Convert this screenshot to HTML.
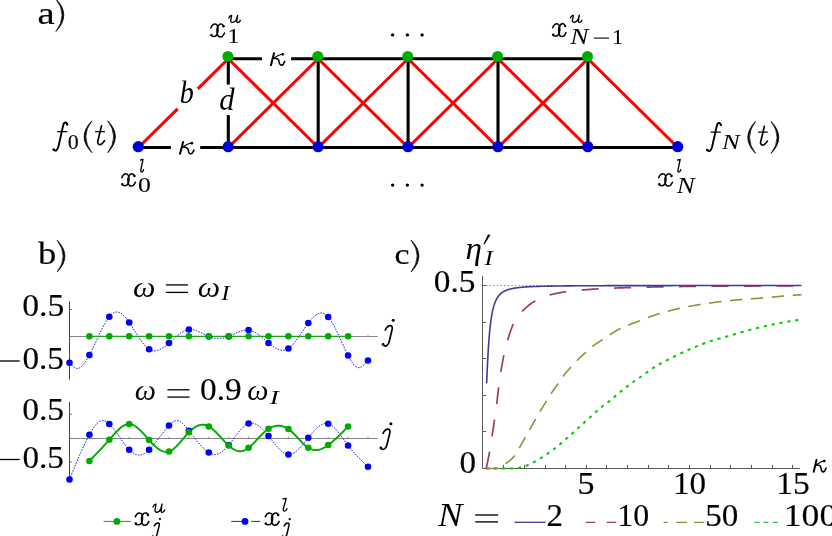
<!DOCTYPE html>
<html><head><meta charset="utf-8"><title>figure</title>
<style>
html,body{margin:0;padding:0;background:#fff;overflow:hidden;}
svg{display:block;}
text{font-family:"Liberation Serif",serif;font-size:200px;fill:#000;}
</style></head>
<body>
<svg width="832" height="536" viewBox="0 0 832 536">
<rect width="832" height="536" fill="#fff"/>
<g id="panel-a">
<line x1="138.40" y1="147.50" x2="177.60" y2="108.80" stroke="#ff0000" stroke-width="3.1"/>
<line x1="197.80" y1="88.86" x2="228.30" y2="58.75" stroke="#ff0000" stroke-width="3.1"/>
<line x1="228.30" y1="58.75" x2="318.20" y2="147.50" stroke="#ff0000" stroke-width="3.1"/>
<line x1="228.30" y1="147.50" x2="318.20" y2="58.75" stroke="#ff0000" stroke-width="3.1"/>
<line x1="318.20" y1="58.75" x2="408.10" y2="147.50" stroke="#ff0000" stroke-width="3.1"/>
<line x1="318.20" y1="147.50" x2="408.10" y2="58.75" stroke="#ff0000" stroke-width="3.1"/>
<line x1="408.10" y1="58.75" x2="498.00" y2="147.50" stroke="#ff0000" stroke-width="3.1"/>
<line x1="408.10" y1="147.50" x2="498.00" y2="58.75" stroke="#ff0000" stroke-width="3.1"/>
<line x1="498.00" y1="58.75" x2="587.90" y2="147.50" stroke="#ff0000" stroke-width="3.1"/>
<line x1="498.00" y1="147.50" x2="587.90" y2="58.75" stroke="#ff0000" stroke-width="3.1"/>
<line x1="587.90" y1="58.75" x2="677.80" y2="147.50" stroke="#ff0000" stroke-width="3.1"/>
<line x1="228.30" y1="58.75" x2="261.90" y2="58.75" stroke="#000" stroke-width="3.1"/>
<line x1="291.10" y1="58.75" x2="587.90" y2="58.75" stroke="#000" stroke-width="3.1"/>
<line x1="138.40" y1="147.50" x2="170.90" y2="147.50" stroke="#000" stroke-width="3.1"/>
<line x1="200.20" y1="147.50" x2="677.80" y2="147.50" stroke="#000" stroke-width="3.1"/>
<line x1="228.30" y1="58.75" x2="228.30" y2="84.60" stroke="#000" stroke-width="3.1"/>
<line x1="228.30" y1="115.10" x2="228.30" y2="147.50" stroke="#000" stroke-width="3.1"/>
<line x1="318.20" y1="58.75" x2="318.20" y2="147.50" stroke="#000" stroke-width="3.1"/>
<line x1="408.10" y1="58.75" x2="408.10" y2="147.50" stroke="#000" stroke-width="3.1"/>
<line x1="498.00" y1="58.75" x2="498.00" y2="147.50" stroke="#000" stroke-width="3.1"/>
<line x1="587.90" y1="58.75" x2="587.90" y2="147.50" stroke="#000" stroke-width="3.1"/>
<circle cx="227.90" cy="56.4" r="5.5" fill="#00ab00"/>
<circle cx="317.80" cy="56.4" r="5.5" fill="#00ab00"/>
<circle cx="407.70" cy="56.4" r="5.5" fill="#00ab00"/>
<circle cx="497.60" cy="56.4" r="5.5" fill="#00ab00"/>
<circle cx="587.50" cy="56.4" r="5.5" fill="#00ab00"/>
<circle cx="138.30" cy="146.7" r="5.6" fill="#0000d8"/>
<circle cx="228.20" cy="146.7" r="5.6" fill="#0000d8"/>
<circle cx="318.10" cy="146.7" r="5.6" fill="#0000d8"/>
<circle cx="408.00" cy="146.7" r="5.6" fill="#0000d8"/>
<circle cx="497.90" cy="146.7" r="5.6" fill="#0000d8"/>
<circle cx="587.80" cy="146.7" r="5.6" fill="#0000d8"/>
<circle cx="677.70" cy="146.7" r="5.6" fill="#0000d8"/>
<circle cx="392.6" cy="34.9" r="1.7" fill="#000"/>
<circle cx="392.6" cy="185.1" r="1.7" fill="#000"/>
<circle cx="407.4" cy="34.9" r="1.7" fill="#000"/>
<circle cx="407.4" cy="185.1" r="1.7" fill="#000"/>
<circle cx="422.1" cy="34.9" r="1.7" fill="#000"/>
<circle cx="422.1" cy="185.1" r="1.7" fill="#000"/>
</g>
<g id="panel-b">
<path d="M69.5,301.25 V379.7" stroke="#444" stroke-width="1" fill="none"/>
<path d="M69.5,336.5 H377.6" stroke="#666" stroke-width="0.8" fill="none"/>
<path d="M69.5,309.5 h2.5 M69.5,363 h2.5" stroke="#5a5a5a" stroke-width="0.8" fill="none"/>
<path d="M89.40,336.25 v-1.6 M109.30,336.25 v-1.6 M129.20,336.25 v-1.6 M149.10,336.25 v-1.6 M169.00,336.25 v-1.6 M188.90,336.25 v-1.6 M208.80,336.25 v-1.6 M228.70,336.25 v-1.6 M248.60,336.25 v-1.6 M268.50,336.25 v-1.6 M288.40,336.25 v-1.6 M308.30,336.25 v-1.6 M328.20,336.25 v-1.6 M348.10,336.25 v-1.6 M368.00,336.25 v-1.6" stroke="#555" stroke-width="0.6" fill="none"/>
<path d="M69.50,362.80 L70.17,363.54 L70.83,364.26 L71.50,364.96 L72.17,365.63 L72.83,366.25 L73.50,366.82 L74.16,367.32 L74.83,367.74 L75.50,368.07 L76.16,368.30 L76.83,368.42 L77.50,368.43 L78.16,368.34 L78.83,368.16 L79.49,367.88 L80.16,367.51 L80.83,367.05 L81.49,366.51 L82.16,365.89 L82.83,365.20 L83.49,364.43 L84.16,363.60 L84.82,362.70 L85.49,361.74 L86.16,360.73 L86.82,359.66 L87.49,358.54 L88.16,357.38 L88.82,356.17 L89.49,354.93 L90.16,353.66 L90.82,352.35 L91.49,351.01 L92.15,349.65 L92.82,348.27 L93.49,346.87 L94.15,345.46 L94.82,344.04 L95.49,342.60 L96.15,341.17 L96.82,339.73 L97.48,338.29 L98.15,336.86 L98.82,335.44 L99.48,334.03 L100.15,332.64 L100.82,331.26 L101.48,329.90 L102.15,328.57 L102.81,327.27 L103.48,326.00 L104.15,324.77 L104.81,323.57 L105.48,322.41 L106.15,321.30 L106.81,320.24 L107.48,319.23 L108.15,318.27 L108.81,317.37 L109.48,316.53 L110.14,315.76 L110.81,315.05 L111.48,314.41 L112.14,313.84 L112.81,313.34 L113.48,312.92 L114.14,312.56 L114.81,312.29 L115.47,312.10 L116.14,311.98 L116.81,311.95 L117.47,312.00 L118.14,312.12 L118.81,312.31 L119.47,312.57 L120.14,312.91 L120.80,313.30 L121.47,313.75 L122.14,314.27 L122.80,314.84 L123.47,315.46 L124.14,316.12 L124.80,316.84 L125.47,317.60 L126.14,318.40 L126.80,319.23 L127.47,320.10 L128.13,321.00 L128.80,321.93 L129.47,322.88 L130.13,323.86 L130.80,324.86 L131.47,325.87 L132.13,326.90 L132.80,327.94 L133.46,328.99 L134.13,330.04 L134.80,331.10 L135.46,332.15 L136.13,333.21 L136.80,334.26 L137.46,335.30 L138.13,336.33 L138.79,337.34 L139.46,338.34 L140.13,339.32 L140.79,340.28 L141.46,341.21 L142.13,342.12 L142.79,342.99 L143.46,343.84 L144.12,344.64 L144.79,345.41 L145.46,346.14 L146.12,346.82 L146.79,347.45 L147.46,348.04 L148.12,348.57 L148.79,349.05 L149.46,349.47 L150.12,349.83 L150.79,350.13 L151.45,350.38 L152.12,350.57 L152.79,350.72 L153.45,350.81 L154.12,350.85 L154.79,350.85 L155.45,350.81 L156.12,350.72 L156.78,350.59 L157.45,350.42 L158.12,350.21 L158.78,349.97 L159.45,349.69 L160.12,349.38 L160.78,349.04 L161.45,348.67 L162.11,348.28 L162.78,347.85 L163.45,347.41 L164.11,346.94 L164.78,346.45 L165.45,345.94 L166.11,345.42 L166.78,344.88 L167.45,344.33 L168.11,343.77 L168.78,343.19 L169.44,342.61 L170.11,342.02 L170.78,341.43 L171.44,340.83 L172.11,340.24 L172.78,339.64 L173.44,339.04 L174.11,338.45 L174.77,337.86 L175.44,337.28 L176.11,336.71 L176.77,336.15 L177.44,335.59 L178.11,335.05 L178.77,334.53 L179.44,334.02 L180.10,333.53 L180.77,333.06 L181.44,332.61 L182.10,332.18 L182.77,331.78 L183.44,331.40 L184.10,331.05 L184.77,330.73 L185.44,330.45 L186.10,330.19 L186.77,329.97 L187.43,329.78 L188.10,329.63 L188.77,329.52 L189.43,329.45 L190.10,329.42 L190.77,329.42 L191.43,329.46 L192.10,329.54 L192.76,329.64 L193.43,329.78 L194.10,329.94 L194.76,330.13 L195.43,330.34 L196.10,330.57 L196.76,330.83 L197.43,331.10 L198.09,331.38 L198.76,331.68 L199.43,331.99 L200.09,332.32 L200.76,332.65 L201.43,332.98 L202.09,333.32 L202.76,333.66 L203.43,334.00 L204.09,334.34 L204.76,334.67 L205.42,335.00 L206.09,335.32 L206.76,335.63 L207.42,335.93 L208.09,336.21 L208.76,336.48 L209.42,336.73 L210.09,336.97 L210.75,337.18 L211.42,337.38 L212.09,337.56 L212.75,337.72 L213.42,337.87 L214.09,337.99 L214.75,338.10 L215.42,338.20 L216.08,338.27 L216.75,338.33 L217.42,338.37 L218.08,338.39 L218.75,338.40 L219.42,338.39 L220.08,338.36 L220.75,338.31 L221.42,338.25 L222.08,338.17 L222.75,338.08 L223.41,337.97 L224.08,337.84 L224.75,337.69 L225.41,337.53 L226.08,337.36 L226.75,337.16 L227.41,336.95 L228.08,336.73 L228.74,336.48 L229.41,336.23 L230.08,335.95 L230.74,335.67 L231.41,335.37 L232.08,335.07 L232.74,334.76 L233.41,334.44 L234.07,334.12 L234.74,333.80 L235.41,333.49 L236.07,333.17 L236.74,332.86 L237.41,332.55 L238.07,332.25 L238.74,331.96 L239.41,331.68 L240.07,331.42 L240.74,331.17 L241.40,330.93 L242.07,330.72 L242.74,330.53 L243.40,330.36 L244.07,330.21 L244.74,330.09 L245.40,330.00 L246.07,329.93 L246.73,329.90 L247.40,329.91 L248.07,329.94 L248.73,330.02 L249.40,330.13 L250.07,330.28 L250.73,330.46 L251.40,330.68 L252.06,330.93 L252.73,331.21 L253.40,331.52 L254.06,331.86 L254.73,332.22 L255.40,332.61 L256.06,333.02 L256.73,333.46 L257.40,333.91 L258.06,334.38 L258.73,334.87 L259.39,335.37 L260.06,335.89 L260.73,336.42 L261.39,336.96 L262.06,337.51 L262.73,338.07 L263.39,338.63 L264.06,339.20 L264.72,339.77 L265.39,340.35 L266.06,340.92 L266.72,341.49 L267.39,342.06 L268.06,342.63 L268.72,343.19 L269.39,343.74 L270.05,344.28 L270.72,344.81 L271.39,345.33 L272.05,345.83 L272.72,346.32 L273.39,346.78 L274.05,347.23 L274.72,347.66 L275.39,348.05 L276.05,348.43 L276.72,348.77 L277.38,349.09 L278.05,349.37 L278.72,349.62 L279.38,349.84 L280.05,350.01 L280.72,350.15 L281.38,350.25 L282.05,350.30 L282.71,350.31 L283.38,350.28 L284.05,350.20 L284.71,350.08 L285.38,349.91 L286.05,349.69 L286.71,349.42 L287.38,349.10 L288.04,348.72 L288.71,348.29 L289.38,347.81 L290.04,347.28 L290.71,346.70 L291.38,346.08 L292.04,345.41 L292.71,344.71 L293.38,343.96 L294.04,343.18 L294.71,342.37 L295.37,341.53 L296.04,340.66 L296.71,339.77 L297.37,338.85 L298.04,337.92 L298.71,336.97 L299.37,336.01 L300.04,335.03 L300.70,334.04 L301.37,333.05 L302.04,332.06 L302.70,331.06 L303.37,330.07 L304.04,329.07 L304.70,328.09 L305.37,327.12 L306.03,326.15 L306.70,325.20 L307.37,324.27 L308.03,323.36 L308.70,322.47 L309.37,321.60 L310.03,320.77 L310.70,319.96 L311.36,319.18 L312.03,318.44 L312.70,317.73 L313.36,317.06 L314.03,316.44 L314.70,315.86 L315.36,315.32 L316.03,314.84 L316.70,314.40 L317.36,314.02 L318.03,313.70 L318.69,313.43 L319.36,313.23 L320.03,313.09 L320.69,313.01 L321.36,313.00 L322.03,313.07 L322.69,313.20 L323.36,313.40 L324.02,313.68 L324.69,314.02 L325.36,314.43 L326.02,314.92 L326.69,315.48 L327.36,316.10 L328.02,316.80 L328.69,317.57 L329.35,318.41 L330.02,319.31 L330.69,320.28 L331.35,321.30 L332.02,322.37 L332.69,323.50 L333.35,324.68 L334.02,325.89 L334.69,327.15 L335.35,328.45 L336.02,329.78 L336.68,331.13 L337.35,332.52 L338.02,333.93 L338.68,335.35 L339.35,336.79 L340.02,338.25 L340.68,339.71 L341.35,341.17 L342.01,342.64 L342.68,344.11 L343.35,345.57 L344.01,347.02 L344.68,348.45 L345.35,349.88 L346.01,351.28 L346.68,352.65 L347.34,354.01 L348.01,355.33 L348.68,356.61 L349.34,357.86 L350.01,359.06 L350.68,360.21 L351.34,361.30 L352.01,362.32 L352.68,363.28 L353.34,364.15 L354.01,364.95 L354.67,365.65 L355.34,366.26 L356.01,366.77 L356.67,367.16 L357.34,367.45 L358.01,367.61 L358.67,367.66 L359.34,367.60 L360.00,367.44 L360.67,367.19 L361.34,366.85 L362.00,366.44 L362.67,365.95 L363.34,365.41 L364.00,364.81 L364.67,364.16 L365.33,363.48 L366.00,362.76 L366.67,362.02 L367.33,361.26 L368.00,360.50" stroke="#0000ff" stroke-width="1.0" stroke-dasharray="1.5 1.35" fill="none"/>
<path d="M89.4,336.25 H348.09999999999997" stroke="#1fa01f" stroke-width="1.25" fill="none"/>
<circle cx="69.50" cy="362.8" r="3.3" fill="#0000ff"/>
<circle cx="89.40" cy="355.1" r="3.3" fill="#0000ff"/>
<circle cx="109.30" cy="316.75" r="3.3" fill="#0000ff"/>
<circle cx="129.20" cy="322.5" r="3.3" fill="#0000ff"/>
<circle cx="149.10" cy="349.25" r="3.3" fill="#0000ff"/>
<circle cx="169.00" cy="343" r="3.3" fill="#0000ff"/>
<circle cx="188.90" cy="329.5" r="3.3" fill="#0000ff"/>
<circle cx="208.80" cy="336.5" r="3.3" fill="#0000ff"/>
<circle cx="228.70" cy="336.5" r="3.3" fill="#0000ff"/>
<circle cx="248.60" cy="330" r="3.3" fill="#0000ff"/>
<circle cx="268.50" cy="343" r="3.3" fill="#0000ff"/>
<circle cx="288.40" cy="348.5" r="3.3" fill="#0000ff"/>
<circle cx="308.30" cy="323" r="3.3" fill="#0000ff"/>
<circle cx="328.20" cy="317" r="3.3" fill="#0000ff"/>
<circle cx="348.10" cy="355.5" r="3.3" fill="#0000ff"/>
<circle cx="368.00" cy="360.5" r="3.3" fill="#0000ff"/>
<circle cx="89.40" cy="336.25" r="3.3" fill="#00ab00"/>
<circle cx="109.30" cy="336.25" r="3.3" fill="#00ab00"/>
<circle cx="129.20" cy="336.25" r="3.3" fill="#00ab00"/>
<circle cx="149.10" cy="336.25" r="3.3" fill="#00ab00"/>
<circle cx="169.00" cy="336.25" r="3.3" fill="#00ab00"/>
<circle cx="188.90" cy="336.25" r="3.3" fill="#00ab00"/>
<circle cx="208.80" cy="336.25" r="3.3" fill="#00ab00"/>
<circle cx="228.70" cy="336.25" r="3.3" fill="#00ab00"/>
<circle cx="248.60" cy="336.25" r="3.3" fill="#00ab00"/>
<circle cx="268.50" cy="336.25" r="3.3" fill="#00ab00"/>
<circle cx="288.40" cy="336.25" r="3.3" fill="#00ab00"/>
<circle cx="308.30" cy="336.25" r="3.3" fill="#00ab00"/>
<circle cx="328.20" cy="336.25" r="3.3" fill="#00ab00"/>
<circle cx="348.10" cy="336.25" r="3.3" fill="#00ab00"/>
<path d="M69.5,402 V479" stroke="#444" stroke-width="1" fill="none"/>
<path d="M69.5,438.5 H377.6" stroke="#666" stroke-width="0.8" fill="none"/>
<path d="M69.5,414.25 h2.5 M69.5,462 h2.5" stroke="#5a5a5a" stroke-width="0.8" fill="none"/>
<path d="M89.40,438.25 v-1.6 M109.30,438.25 v-1.6 M129.20,438.25 v-1.6 M149.10,438.25 v-1.6 M169.00,438.25 v-1.6 M188.90,438.25 v-1.6 M208.80,438.25 v-1.6 M228.70,438.25 v-1.6 M248.60,438.25 v-1.6 M268.50,438.25 v-1.6 M288.40,438.25 v-1.6 M308.30,438.25 v-1.6 M328.20,438.25 v-1.6 M348.10,438.25 v-1.6 M368.00,438.25 v-1.6" stroke="#555" stroke-width="0.6" fill="none"/>
<path d="M69.50,479.50 L70.17,477.86 L70.83,476.22 L71.50,474.59 L72.17,472.96 L72.83,471.33 L73.50,469.70 L74.16,468.08 L74.83,466.47 L75.50,464.87 L76.16,463.27 L76.83,461.68 L77.50,460.11 L78.16,458.54 L78.83,456.99 L79.49,455.45 L80.16,453.93 L80.83,452.42 L81.49,450.92 L82.16,449.44 L82.83,447.99 L83.49,446.55 L84.16,445.12 L84.82,443.72 L85.49,442.35 L86.16,440.99 L86.82,439.66 L87.49,438.35 L88.16,437.07 L88.82,435.82 L89.49,434.59 L90.16,433.39 L90.82,432.22 L91.49,431.09 L92.15,430.00 L92.82,428.95 L93.49,427.94 L94.15,426.99 L94.82,426.08 L95.49,425.24 L96.15,424.45 L96.82,423.73 L97.48,423.07 L98.15,422.48 L98.82,421.96 L99.48,421.52 L100.15,421.16 L100.82,420.88 L101.48,420.69 L102.15,420.59 L102.81,420.57 L103.48,420.63 L104.15,420.77 L104.81,420.98 L105.48,421.26 L106.15,421.60 L106.81,422.01 L107.48,422.47 L108.15,422.99 L108.81,423.55 L109.48,424.17 L110.14,424.82 L110.81,425.52 L111.48,426.26 L112.14,427.03 L112.81,427.83 L113.48,428.66 L114.14,429.51 L114.81,430.39 L115.47,431.29 L116.14,432.21 L116.81,433.15 L117.47,434.09 L118.14,435.05 L118.81,436.01 L119.47,436.97 L120.14,437.94 L120.80,438.91 L121.47,439.87 L122.14,440.82 L122.80,441.76 L123.47,442.69 L124.14,443.61 L124.80,444.50 L125.47,445.38 L126.14,446.23 L126.80,447.05 L127.47,447.85 L128.13,448.61 L128.80,449.33 L129.47,450.02 L130.13,450.67 L130.80,451.27 L131.47,451.84 L132.13,452.36 L132.80,452.84 L133.46,453.27 L134.13,453.66 L134.80,454.01 L135.46,454.30 L136.13,454.55 L136.80,454.75 L137.46,454.90 L138.13,455.00 L138.79,455.05 L139.46,455.04 L140.13,454.98 L140.79,454.87 L141.46,454.71 L142.13,454.50 L142.79,454.24 L143.46,453.94 L144.12,453.59 L144.79,453.19 L145.46,452.76 L146.12,452.29 L146.79,451.78 L147.46,451.23 L148.12,450.66 L148.79,450.05 L149.46,449.40 L150.12,448.74 L150.79,448.04 L151.45,447.32 L152.12,446.58 L152.79,445.81 L153.45,445.03 L154.12,444.23 L154.79,443.41 L155.45,442.58 L156.12,441.73 L156.78,440.88 L157.45,440.02 L158.12,439.15 L158.78,438.27 L159.45,437.39 L160.12,436.51 L160.78,435.63 L161.45,434.75 L162.11,433.88 L162.78,433.01 L163.45,432.15 L164.11,431.30 L164.78,430.46 L165.45,429.63 L166.11,428.82 L166.78,428.02 L167.45,427.24 L168.11,426.48 L168.78,425.74 L169.44,425.03 L170.11,424.34 L170.78,423.69 L171.44,423.08 L172.11,422.52 L172.78,422.01 L173.44,421.56 L174.11,421.19 L174.77,420.88 L175.44,420.66 L176.11,420.52 L176.77,420.47 L177.44,420.52 L178.11,420.65 L178.77,420.86 L179.44,421.15 L180.10,421.52 L180.77,421.95 L181.44,422.44 L182.10,422.99 L182.77,423.59 L183.44,424.24 L184.10,424.93 L184.77,425.66 L185.44,426.43 L186.10,427.22 L186.77,428.03 L187.43,428.87 L188.10,429.72 L188.77,430.58 L189.43,431.44 L190.10,432.31 L190.77,433.17 L191.43,434.04 L192.10,434.91 L192.76,435.77 L193.43,436.63 L194.10,437.49 L194.76,438.34 L195.43,439.18 L196.10,440.01 L196.76,440.83 L197.43,441.64 L198.09,442.44 L198.76,443.23 L199.43,443.99 L200.09,444.75 L200.76,445.48 L201.43,446.20 L202.09,446.90 L202.76,447.57 L203.43,448.22 L204.09,448.85 L204.76,449.45 L205.42,450.03 L206.09,450.58 L206.76,451.10 L207.42,451.59 L208.09,452.05 L208.76,452.47 L209.42,452.86 L210.09,453.22 L210.75,453.54 L211.42,453.81 L212.09,454.04 L212.75,454.23 L213.42,454.37 L214.09,454.46 L214.75,454.50 L215.42,454.48 L216.08,454.41 L216.75,454.29 L217.42,454.12 L218.08,453.89 L218.75,453.62 L219.42,453.31 L220.08,452.95 L220.75,452.54 L221.42,452.10 L222.08,451.61 L222.75,451.09 L223.41,450.53 L224.08,449.94 L224.75,449.31 L225.41,448.65 L226.08,447.96 L226.75,447.25 L227.41,446.51 L228.08,445.74 L228.74,444.95 L229.41,444.13 L230.08,443.30 L230.74,442.45 L231.41,441.59 L232.08,440.72 L232.74,439.84 L233.41,438.96 L234.07,438.07 L234.74,437.18 L235.41,436.30 L236.07,435.42 L236.74,434.55 L237.41,433.69 L238.07,432.85 L238.74,432.02 L239.41,431.21 L240.07,430.42 L240.74,429.66 L241.40,428.93 L242.07,428.22 L242.74,427.55 L243.40,426.92 L244.07,426.32 L244.74,425.77 L245.40,425.25 L246.07,424.79 L246.73,424.37 L247.40,424.01 L248.07,423.70 L248.73,423.45 L249.40,423.26 L250.07,423.13 L250.73,423.05 L251.40,423.03 L252.06,423.06 L252.73,423.15 L253.40,423.28 L254.06,423.46 L254.73,423.69 L255.40,423.96 L256.06,424.27 L256.73,424.63 L257.40,425.03 L258.06,425.46 L258.73,425.93 L259.39,426.44 L260.06,426.98 L260.73,427.55 L261.39,428.15 L262.06,428.78 L262.73,429.44 L263.39,430.12 L264.06,430.82 L264.72,431.55 L265.39,432.30 L266.06,433.06 L266.72,433.84 L267.39,434.64 L268.06,435.45 L268.72,436.28 L269.39,437.11 L270.05,437.95 L270.72,438.80 L271.39,439.64 L272.05,440.49 L272.72,441.34 L273.39,442.18 L274.05,443.02 L274.72,443.84 L275.39,444.65 L276.05,445.45 L276.72,446.23 L277.38,446.99 L278.05,447.73 L278.72,448.45 L279.38,449.13 L280.05,449.79 L280.72,450.42 L281.38,451.01 L282.05,451.56 L282.71,452.07 L283.38,452.55 L284.05,452.97 L284.71,453.35 L285.38,453.69 L286.05,453.97 L286.71,454.19 L287.38,454.36 L288.04,454.47 L288.71,454.51 L289.38,454.50 L290.04,454.42 L290.71,454.29 L291.38,454.10 L292.04,453.86 L292.71,453.57 L293.38,453.23 L294.04,452.85 L294.71,452.42 L295.37,451.94 L296.04,451.43 L296.71,450.88 L297.37,450.30 L298.04,449.69 L298.71,449.04 L299.37,448.37 L300.04,447.67 L300.70,446.94 L301.37,446.20 L302.04,445.43 L302.70,444.65 L303.37,443.86 L304.04,443.05 L304.70,442.23 L305.37,441.41 L306.03,440.58 L306.70,439.75 L307.37,438.91 L308.03,438.08 L308.70,437.25 L309.37,436.43 L310.03,435.62 L310.70,434.81 L311.36,434.02 L312.03,433.24 L312.70,432.47 L313.36,431.73 L314.03,431.00 L314.70,430.29 L315.36,429.61 L316.03,428.95 L316.70,428.32 L317.36,427.72 L318.03,427.16 L318.69,426.62 L319.36,426.12 L320.03,425.66 L320.69,425.23 L321.36,424.85 L322.03,424.51 L322.69,424.21 L323.36,423.96 L324.02,423.76 L324.69,423.62 L325.36,423.52 L326.02,423.48 L326.69,423.49 L327.36,423.57 L328.02,423.70 L328.69,423.90 L329.35,424.16 L330.02,424.48 L330.69,424.85 L331.35,425.27 L332.02,425.75 L332.69,426.27 L333.35,426.84 L334.02,427.46 L334.69,428.11 L335.35,428.80 L336.02,429.52 L336.68,430.27 L337.35,431.06 L338.02,431.87 L338.68,432.70 L339.35,433.56 L340.02,434.43 L340.68,435.32 L341.35,436.22 L342.01,437.14 L342.68,438.06 L343.35,438.98 L344.01,439.91 L344.68,440.84 L345.35,441.76 L346.01,442.68 L346.68,443.60 L347.34,444.50 L348.01,445.38 L348.68,446.25 L349.34,447.11 L350.01,447.95 L350.68,448.77 L351.34,449.58 L352.01,450.38 L352.68,451.16 L353.34,451.93 L354.01,452.69 L354.67,453.43 L355.34,454.17 L356.01,454.89 L356.67,455.61 L357.34,456.31 L358.01,457.01 L358.67,457.69 L359.34,458.37 L360.00,459.04 L360.67,459.71 L361.34,460.37 L362.00,461.02 L362.67,461.67 L363.34,462.32 L364.00,462.96 L364.67,463.59 L365.33,464.23 L366.00,464.86 L366.67,465.49 L367.33,466.12 L368.00,466.75" stroke="#0000ff" stroke-width="1.0" stroke-dasharray="1.5 1.35" fill="none"/>
<path d="M89.40,461.00 L90.07,460.31 L90.73,459.63 L91.40,458.94 L92.06,458.25 L92.73,457.57 L93.39,456.88 L94.06,456.19 L94.72,455.50 L95.39,454.81 L96.05,454.11 L96.72,453.42 L97.38,452.72 L98.05,452.02 L98.71,451.32 L99.38,450.62 L100.04,449.91 L100.71,449.21 L101.37,448.50 L102.04,447.78 L102.70,447.07 L103.37,446.35 L104.03,445.62 L104.70,444.89 L105.36,444.16 L106.03,443.43 L106.69,442.69 L107.36,441.95 L108.02,441.20 L108.69,440.45 L109.35,439.69 L110.02,438.93 L110.68,438.17 L111.35,437.40 L112.01,436.64 L112.68,435.88 L113.34,435.13 L114.01,434.38 L114.67,433.64 L115.34,432.92 L116.00,432.21 L116.67,431.51 L117.33,430.83 L118.00,430.17 L118.66,429.54 L119.33,428.93 L119.99,428.34 L120.66,427.78 L121.32,427.25 L121.99,426.76 L122.65,426.29 L123.32,425.87 L123.98,425.48 L124.65,425.13 L125.31,424.83 L125.98,424.57 L126.64,424.35 L127.31,424.19 L127.97,424.07 L128.64,424.01 L129.30,424.00 L129.97,424.05 L130.63,424.15 L131.30,424.30 L131.96,424.51 L132.63,424.76 L133.29,425.05 L133.96,425.39 L134.62,425.77 L135.29,426.19 L135.95,426.64 L136.62,427.13 L137.28,427.66 L137.95,428.21 L138.61,428.79 L139.28,429.40 L139.94,430.03 L140.61,430.68 L141.27,431.35 L141.94,432.04 L142.60,432.75 L143.27,433.46 L143.93,434.19 L144.60,434.93 L145.26,435.68 L145.93,436.43 L146.59,437.18 L147.26,437.93 L147.92,438.68 L148.59,439.43 L149.25,440.17 L149.92,440.90 L150.58,441.63 L151.25,442.34 L151.91,443.04 L152.58,443.72 L153.24,444.39 L153.91,445.04 L154.57,445.67 L155.24,446.28 L155.90,446.87 L156.57,447.44 L157.23,447.97 L157.90,448.48 L158.56,448.97 L159.23,449.42 L159.89,449.84 L160.56,450.22 L161.22,450.57 L161.89,450.89 L162.55,451.16 L163.22,451.40 L163.88,451.59 L164.55,451.74 L165.21,451.84 L165.88,451.90 L166.54,451.91 L167.21,451.87 L167.87,451.78 L168.54,451.63 L169.20,451.43 L169.87,451.18 L170.53,450.87 L171.20,450.52 L171.86,450.11 L172.53,449.67 L173.19,449.18 L173.86,448.65 L174.52,448.09 L175.19,447.49 L175.86,446.86 L176.52,446.21 L177.19,445.53 L177.85,444.82 L178.52,444.10 L179.18,443.36 L179.85,442.60 L180.51,441.84 L181.18,441.06 L181.84,440.28 L182.51,439.49 L183.17,438.70 L183.84,437.91 L184.50,437.13 L185.17,436.35 L185.83,435.59 L186.50,434.83 L187.16,434.09 L187.83,433.37 L188.49,432.67 L189.16,431.99 L189.82,431.34 L190.49,430.71 L191.15,430.11 L191.82,429.53 L192.48,428.99 L193.15,428.47 L193.81,427.98 L194.48,427.53 L195.14,427.10 L195.81,426.71 L196.47,426.35 L197.14,426.02 L197.80,425.73 L198.47,425.48 L199.13,425.26 L199.80,425.08 L200.46,424.93 L201.13,424.83 L201.79,424.76 L202.46,424.74 L203.12,424.75 L203.79,424.81 L204.45,424.91 L205.12,425.04 L205.78,425.22 L206.45,425.43 L207.11,425.68 L207.78,425.98 L208.44,426.31 L209.11,426.67 L209.77,427.08 L210.44,427.52 L211.10,427.99 L211.77,428.49 L212.43,429.03 L213.10,429.59 L213.76,430.17 L214.43,430.78 L215.09,431.40 L215.76,432.05 L216.42,432.71 L217.09,433.39 L217.75,434.08 L218.42,434.78 L219.08,435.49 L219.75,436.21 L220.41,436.93 L221.08,437.65 L221.74,438.38 L222.41,439.10 L223.07,439.82 L223.74,440.53 L224.40,441.24 L225.07,441.94 L225.73,442.63 L226.40,443.30 L227.06,443.96 L227.73,444.60 L228.39,445.22 L229.06,445.82 L229.72,446.40 L230.39,446.95 L231.05,447.48 L231.72,447.97 L232.38,448.44 L233.05,448.88 L233.71,449.29 L234.38,449.66 L235.04,450.00 L235.71,450.30 L236.37,450.56 L237.04,450.78 L237.70,450.96 L238.37,451.10 L239.03,451.20 L239.70,451.24 L240.36,451.24 L241.03,451.20 L241.69,451.10 L242.36,450.97 L243.02,450.79 L243.69,450.56 L244.35,450.30 L245.02,450.00 L245.68,449.66 L246.35,449.28 L247.01,448.87 L247.68,448.42 L248.34,447.94 L249.01,447.43 L249.67,446.89 L250.34,446.33 L251.00,445.74 L251.67,445.12 L252.33,444.49 L253.00,443.84 L253.66,443.17 L254.33,442.49 L254.99,441.80 L255.66,441.09 L256.32,440.38 L256.99,439.67 L257.65,438.95 L258.32,438.23 L258.98,437.52 L259.65,436.81 L260.31,436.10 L260.98,435.40 L261.64,434.71 L262.31,434.04 L262.98,433.38 L263.64,432.73 L264.31,432.11 L264.97,431.50 L265.64,430.92 L266.30,430.37 L266.97,429.84 L267.63,429.35 L268.30,428.89 L268.96,428.46 L269.63,428.06 L270.29,427.70 L270.96,427.38 L271.62,427.08 L272.29,426.82 L272.95,426.58 L273.62,426.38 L274.28,426.21 L274.95,426.06 L275.61,425.94 L276.28,425.85 L276.94,425.79 L277.61,425.75 L278.27,425.73 L278.94,425.74 L279.60,425.77 L280.27,425.83 L280.93,425.92 L281.60,426.04 L282.26,426.18 L282.93,426.36 L283.59,426.56 L284.26,426.80 L284.92,427.06 L285.59,427.36 L286.25,427.69 L286.92,428.06 L287.58,428.46 L288.25,428.89 L288.91,429.36 L289.58,429.87 L290.24,430.41 L290.91,430.97 L291.57,431.56 L292.24,432.18 L292.90,432.81 L293.57,433.47 L294.23,434.14 L294.90,434.83 L295.56,435.53 L296.23,436.23 L296.89,436.95 L297.56,437.67 L298.22,438.39 L298.89,439.11 L299.55,439.82 L300.22,440.53 L300.88,441.23 L301.55,441.92 L302.21,442.60 L302.88,443.26 L303.54,443.90 L304.21,444.53 L304.87,445.13 L305.54,445.70 L306.20,446.24 L306.87,446.76 L307.53,447.24 L308.20,447.68 L308.86,448.09 L309.53,448.46 L310.19,448.79 L310.86,449.09 L311.52,449.34 L312.19,449.56 L312.85,449.74 L313.52,449.89 L314.18,449.99 L314.85,450.07 L315.51,450.10 L316.18,450.10 L316.84,450.07 L317.51,450.00 L318.17,449.89 L318.84,449.76 L319.50,449.59 L320.17,449.39 L320.83,449.16 L321.50,448.90 L322.16,448.61 L322.83,448.30 L323.49,447.96 L324.16,447.60 L324.82,447.22 L325.49,446.82 L326.15,446.40 L326.82,445.96 L327.48,445.51 L328.15,445.04 L328.81,444.55 L329.48,444.05 L330.14,443.54 L330.81,443.02 L331.47,442.48 L332.14,441.93 L332.80,441.38 L333.47,440.81 L334.13,440.23 L334.80,439.64 L335.46,439.04 L336.13,438.43 L336.79,437.81 L337.46,437.19 L338.12,436.56 L338.79,435.92 L339.45,435.27 L340.12,434.62 L340.78,433.96 L341.45,433.30 L342.11,432.63 L342.78,431.96 L343.44,431.29 L344.11,430.61 L344.77,429.93 L345.44,429.25 L346.10,428.56 L346.77,427.88 L347.43,427.19 L348.10,426.50" stroke="#00ab00" stroke-width="1.9" fill="none"/>
<circle cx="69.50" cy="479.5" r="3.3" fill="#0000ff"/>
<circle cx="89.40" cy="434.75" r="3.3" fill="#0000ff"/>
<circle cx="109.30" cy="424" r="3.3" fill="#0000ff"/>
<circle cx="129.20" cy="449.75" r="3.3" fill="#0000ff"/>
<circle cx="149.10" cy="449.75" r="3.3" fill="#0000ff"/>
<circle cx="169.00" cy="425.5" r="3.3" fill="#0000ff"/>
<circle cx="188.90" cy="430.75" r="3.3" fill="#0000ff"/>
<circle cx="208.80" cy="452.5" r="3.3" fill="#0000ff"/>
<circle cx="228.70" cy="445" r="3.3" fill="#0000ff"/>
<circle cx="248.60" cy="423.5" r="3.3" fill="#0000ff"/>
<circle cx="268.50" cy="436" r="3.3" fill="#0000ff"/>
<circle cx="288.40" cy="454.5" r="3.3" fill="#0000ff"/>
<circle cx="308.30" cy="437.75" r="3.3" fill="#0000ff"/>
<circle cx="328.20" cy="423.75" r="3.3" fill="#0000ff"/>
<circle cx="348.10" cy="445.5" r="3.3" fill="#0000ff"/>
<circle cx="368.00" cy="466.75" r="3.3" fill="#0000ff"/>
<circle cx="89.40" cy="461" r="3.3" fill="#00ab00"/>
<circle cx="109.30" cy="439.75" r="3.3" fill="#00ab00"/>
<circle cx="129.20" cy="424" r="3.3" fill="#00ab00"/>
<circle cx="149.10" cy="440" r="3.3" fill="#00ab00"/>
<circle cx="169.00" cy="451.5" r="3.3" fill="#00ab00"/>
<circle cx="188.90" cy="432.25" r="3.3" fill="#00ab00"/>
<circle cx="208.80" cy="426.5" r="3.3" fill="#00ab00"/>
<circle cx="228.70" cy="445.5" r="3.3" fill="#00ab00"/>
<circle cx="248.60" cy="447.75" r="3.3" fill="#00ab00"/>
<circle cx="268.50" cy="428.75" r="3.3" fill="#00ab00"/>
<circle cx="288.40" cy="429" r="3.3" fill="#00ab00"/>
<circle cx="308.30" cy="447.75" r="3.3" fill="#00ab00"/>
<circle cx="328.20" cy="445" r="3.3" fill="#00ab00"/>
<circle cx="348.10" cy="426.5" r="3.3" fill="#00ab00"/>
<path d="M103.6,521.4 H130.9" stroke="#00ab00" stroke-width="1" fill="none"/><circle cx="116.9" cy="521.4" r="3.4" fill="#00ab00"/>
<path d="M231.25,521.4 H245 M251.25,521.4 H260.3" stroke="#0000ff" stroke-width="0.9" fill="none"/><circle cx="245" cy="521.4" r="3.4" fill="#0000ff"/>
</g>
<g id="panel-c">
<path d="M482.5,275.9 V468.5" stroke="#5a5a5a" stroke-width="1" fill="none"/>
<path d="M482.5,468.5 H800" stroke="#5a5a5a" stroke-width="1" fill="none"/>
<path d="M503.50,468.5 v-3.6 M524.50,468.5 v-3.6 M545.50,468.5 v-3.6 M565.50,468.5 v-3.6 M586.50,468.5 v-3.6 M606.50,468.5 v-3.6 M627.50,468.5 v-3.6 M648.50,468.5 v-3.6 M668.50,468.5 v-3.6 M689.50,468.5 v-3.6 M710.50,468.5 v-3.6 M730.50,468.5 v-3.6 M751.50,468.5 v-3.6 M772.50,468.5 v-3.6 M792.50,468.5 v-3.6 M482.5,431.50 h3.6 M482.5,395.50 h3.6 M482.5,358.50 h3.6 M482.5,322.50 h3.6 M482.5,285.50 h3.6 " stroke="#5a5a5a" stroke-width="1" fill="none"/>
<path d="M482.6,285.5 H801.5" stroke="#444" stroke-width="0.7" stroke-dasharray="1.2 2.4" fill="none"/>
<path d="M486.00,468.50 L486.67,468.50 L487.33,468.50 L488.00,468.50 L488.67,468.50 L489.33,468.50 L490.00,468.50 L490.67,468.50 L491.33,468.50 L492.00,468.50 L492.67,468.50 L493.33,468.50 L494.00,468.50 L494.67,468.50 L495.33,468.50 L496.00,468.50 L496.67,468.50 L497.33,468.50 L498.00,468.50 L498.67,468.50 L499.33,468.50 L500.00,468.50 L500.67,468.50 L501.33,468.50 L502.00,468.50 L502.66,468.50 L503.33,468.50 L504.00,468.50 L504.66,468.50 L505.33,468.50 L506.00,468.50 L506.66,468.50 L507.33,468.50 L508.00,468.50 L508.66,468.50 L509.33,468.50 L510.00,468.50 L510.66,468.50 L511.33,468.50 L512.00,468.50 L512.66,468.50 L513.33,468.50 L514.00,468.49 L514.66,468.46 L515.33,468.41 L516.00,468.34 L516.66,468.24 L517.33,468.13 L518.00,468.00 L518.66,467.86 L519.33,467.71 L520.00,467.54 L520.66,467.36 L521.33,467.17 L522.00,466.98 L522.66,466.78 L523.33,466.58 L524.00,466.37 L524.66,466.16 L525.33,465.96 L526.00,465.75 L526.66,465.54 L527.33,465.30 L528.00,465.04 L528.66,464.77 L529.33,464.48 L530.00,464.17 L530.66,463.85 L531.33,463.52 L532.00,463.17 L532.66,462.82 L533.33,462.45 L533.99,462.08 L534.66,461.71 L535.33,461.32 L535.99,460.94 L536.66,460.56 L537.33,460.17 L537.99,459.79 L538.66,459.41 L539.33,459.02 L539.99,458.63 L540.66,458.23 L541.33,457.82 L541.99,457.40 L542.66,456.98 L543.33,456.55 L543.99,456.12 L544.66,455.68 L545.33,455.23 L545.99,454.78 L546.66,454.32 L547.33,453.86 L547.99,453.39 L548.66,452.92 L549.33,452.45 L549.99,451.98 L550.66,451.50 L551.33,451.01 L551.99,450.52 L552.66,450.03 L553.33,449.52 L553.99,449.01 L554.66,448.50 L555.33,447.98 L555.99,447.45 L556.66,446.92 L557.33,446.38 L557.99,445.84 L558.66,445.30 L559.33,444.75 L559.99,444.20 L560.66,443.64 L561.33,443.08 L561.99,442.52 L562.66,441.96 L563.33,441.40 L563.99,440.83 L564.66,440.26 L565.32,439.68 L565.99,439.09 L566.66,438.50 L567.32,437.91 L567.99,437.31 L568.66,436.70 L569.32,436.10 L569.99,435.49 L570.66,434.88 L571.32,434.27 L571.99,433.65 L572.66,433.04 L573.32,432.43 L573.99,431.82 L574.66,431.22 L575.32,430.61 L575.99,430.01 L576.66,429.41 L577.32,428.81 L577.99,428.21 L578.66,427.61 L579.32,427.01 L579.99,426.41 L580.66,425.81 L581.32,425.21 L581.99,424.61 L582.66,424.01 L583.32,423.41 L583.99,422.81 L584.66,422.21 L585.32,421.61 L585.99,421.01 L586.66,420.41 L587.32,419.81 L587.99,419.21 L588.66,418.61 L589.32,418.00 L589.99,417.39 L590.66,416.78 L591.32,416.16 L591.99,415.54 L592.66,414.91 L593.32,414.29 L593.99,413.67 L594.66,413.05 L595.32,412.43 L595.99,411.82 L596.65,411.21 L597.32,410.62 L597.99,410.03 L598.65,409.45 L599.32,408.88 L599.99,408.32 L600.65,407.78 L601.32,407.25 L601.99,406.75 L602.65,406.26 L603.32,405.79 L603.99,405.33 L604.65,404.85 L605.32,404.36 L605.99,403.85 L606.65,403.33 L607.32,402.79 L607.99,402.24 L608.65,401.69 L609.32,401.13 L609.99,400.56 L610.65,399.99 L611.32,399.43 L611.99,398.86 L612.65,398.29 L613.32,397.73 L613.99,397.18 L614.65,396.62 L615.32,396.06 L615.99,395.50 L616.65,394.94 L617.32,394.38 L617.99,393.82 L618.65,393.26 L619.32,392.70 L619.99,392.15 L620.65,391.60 L621.32,391.05 L621.99,390.51 L622.65,389.98 L623.32,389.45 L623.99,388.92 L624.65,388.40 L625.32,387.89 L625.99,387.37 L626.65,386.86 L627.32,386.36 L627.98,385.85 L628.65,385.35 L629.32,384.85 L629.98,384.36 L630.65,383.87 L631.32,383.38 L631.98,382.90 L632.65,382.42 L633.32,381.95 L633.98,381.48 L634.65,381.02 L635.32,380.57 L635.98,380.12 L636.65,379.67 L637.32,379.22 L637.98,378.78 L638.65,378.33 L639.32,377.88 L639.98,377.43 L640.65,376.97 L641.32,376.51 L641.98,376.04 L642.65,375.56 L643.32,375.07 L643.98,374.57 L644.65,374.05 L645.32,373.53 L645.98,373.00 L646.65,372.48 L647.32,371.96 L647.98,371.45 L648.65,370.95 L649.32,370.47 L649.98,370.01 L650.65,369.57 L651.32,369.13 L651.98,368.71 L652.65,368.28 L653.32,367.87 L653.98,367.46 L654.65,367.05 L655.32,366.66 L655.98,366.26 L656.65,365.87 L657.32,365.49 L657.98,365.11 L658.65,364.73 L659.31,364.35 L659.98,363.98 L660.65,363.61 L661.31,363.25 L661.98,362.88 L662.65,362.52 L663.31,362.16 L663.98,361.80 L664.65,361.44 L665.31,361.08 L665.98,360.73 L666.65,360.37 L667.31,360.02 L667.98,359.67 L668.65,359.33 L669.31,358.99 L669.98,358.65 L670.65,358.31 L671.31,357.97 L671.98,357.64 L672.65,357.31 L673.31,356.98 L673.98,356.65 L674.65,356.32 L675.31,356.00 L675.98,355.67 L676.65,355.35 L677.31,355.03 L677.98,354.71 L678.65,354.39 L679.31,354.08 L679.98,353.76 L680.65,353.44 L681.31,353.13 L681.98,352.81 L682.65,352.50 L683.31,352.19 L683.98,351.88 L684.65,351.57 L685.31,351.26 L685.98,350.95 L686.65,350.64 L687.31,350.34 L687.98,350.03 L688.65,349.73 L689.31,349.44 L689.98,349.14 L690.64,348.85 L691.31,348.56 L691.98,348.27 L692.64,347.98 L693.31,347.70 L693.98,347.42 L694.64,347.15 L695.31,346.87 L695.98,346.60 L696.64,346.33 L697.31,346.06 L697.98,345.80 L698.64,345.53 L699.31,345.27 L699.98,345.00 L700.64,344.74 L701.31,344.48 L701.98,344.22 L702.64,343.97 L703.31,343.72 L703.98,343.47 L704.64,343.22 L705.31,342.97 L705.98,342.73 L706.64,342.49 L707.31,342.25 L707.98,342.01 L708.64,341.78 L709.31,341.55 L709.98,341.32 L710.64,341.10 L711.31,340.88 L711.98,340.67 L712.64,340.45 L713.31,340.25 L713.98,340.04 L714.64,339.84 L715.31,339.65 L715.98,339.46 L716.64,339.27 L717.31,339.08 L717.98,338.90 L718.64,338.71 L719.31,338.53 L719.98,338.35 L720.64,338.18 L721.31,338.00 L721.97,337.82 L722.64,337.65 L723.31,337.47 L723.97,337.29 L724.64,337.12 L725.31,336.94 L725.97,336.76 L726.64,336.58 L727.31,336.39 L727.97,336.21 L728.64,336.02 L729.31,335.83 L729.97,335.64 L730.64,335.45 L731.31,335.26 L731.97,335.06 L732.64,334.87 L733.31,334.67 L733.97,334.48 L734.64,334.28 L735.31,334.09 L735.97,333.89 L736.64,333.69 L737.31,333.50 L737.97,333.30 L738.64,333.11 L739.31,332.91 L739.97,332.71 L740.64,332.52 L741.31,332.33 L741.97,332.13 L742.64,331.94 L743.31,331.75 L743.97,331.56 L744.64,331.37 L745.31,331.18 L745.97,330.99 L746.64,330.80 L747.31,330.62 L747.97,330.44 L748.64,330.26 L749.31,330.08 L749.97,329.90 L750.64,329.72 L751.31,329.55 L751.97,329.38 L752.64,329.21 L753.30,329.04 L753.97,328.87 L754.64,328.70 L755.30,328.53 L755.97,328.36 L756.64,328.19 L757.30,328.03 L757.97,327.86 L758.64,327.70 L759.30,327.53 L759.97,327.37 L760.64,327.21 L761.30,327.05 L761.97,326.88 L762.64,326.73 L763.30,326.57 L763.97,326.41 L764.64,326.25 L765.30,326.10 L765.97,325.94 L766.64,325.79 L767.30,325.64 L767.97,325.49 L768.64,325.34 L769.30,325.19 L769.97,325.05 L770.64,324.90 L771.30,324.76 L771.97,324.62 L772.64,324.48 L773.30,324.34 L773.97,324.21 L774.64,324.07 L775.30,323.94 L775.97,323.81 L776.64,323.68 L777.30,323.55 L777.97,323.42 L778.64,323.29 L779.30,323.16 L779.97,323.03 L780.64,322.91 L781.30,322.78 L781.97,322.66 L782.64,322.54 L783.30,322.41 L783.97,322.29 L784.63,322.17 L785.30,322.05 L785.97,321.93 L786.63,321.82 L787.30,321.70 L787.97,321.58 L788.63,321.47 L789.30,321.36 L789.97,321.25 L790.63,321.13 L791.30,321.02 L791.97,320.92 L792.63,320.81 L793.30,320.70 L793.97,320.60 L794.63,320.49 L795.30,320.39 L795.97,320.29 L796.63,320.19 L797.30,320.09 L797.97,319.99 L798.63,319.90 L799.30,319.80" stroke="#00cc00" stroke-width="2" stroke-dasharray="3.2 4.8" fill="none"/>
<path d="M486.00,468.50 L486.67,468.50 L487.33,468.50 L488.00,468.49 L488.66,468.49 L489.33,468.48 L489.99,468.48 L490.66,468.47 L491.33,468.46 L491.99,468.44 L492.66,468.43 L493.32,468.41 L493.99,468.40 L494.66,468.38 L495.32,468.36 L495.99,468.34 L496.65,468.31 L497.32,468.28 L497.98,468.21 L498.65,468.09 L499.32,467.93 L499.98,467.74 L500.65,467.52 L501.31,467.27 L501.98,467.01 L502.65,466.65 L503.31,466.13 L503.98,465.50 L504.64,464.83 L505.31,464.15 L505.97,463.53 L506.64,462.97 L507.31,462.42 L507.97,461.88 L508.64,461.35 L509.30,460.82 L509.97,460.27 L510.64,459.72 L511.30,459.13 L511.97,458.52 L512.63,457.86 L513.30,457.16 L513.96,456.41 L514.63,455.55 L515.30,454.60 L515.96,453.58 L516.63,452.49 L517.29,451.36 L517.96,450.20 L518.63,449.04 L519.29,447.89 L519.96,446.77 L520.62,445.63 L521.29,444.48 L521.95,443.30 L522.62,442.12 L523.29,440.93 L523.95,439.74 L524.62,438.56 L525.28,437.38 L525.95,436.21 L526.62,435.05 L527.28,433.90 L527.95,432.74 L528.61,431.58 L529.28,430.42 L529.94,429.25 L530.61,428.08 L531.28,426.89 L531.94,425.70 L532.61,424.51 L533.27,423.31 L533.94,422.12 L534.61,420.93 L535.27,419.75 L535.94,418.59 L536.60,417.42 L537.27,416.26 L537.93,415.11 L538.60,413.96 L539.27,412.82 L539.93,411.69 L540.60,410.57 L541.26,409.47 L541.93,408.38 L542.59,407.30 L543.26,406.23 L543.93,405.17 L544.59,404.11 L545.26,403.06 L545.92,402.00 L546.59,400.94 L547.26,399.87 L547.92,398.79 L548.59,397.71 L549.25,396.63 L549.92,395.55 L550.58,394.49 L551.25,393.45 L551.92,392.43 L552.58,391.43 L553.25,390.45 L553.91,389.49 L554.58,388.53 L555.25,387.59 L555.91,386.66 L556.58,385.73 L557.24,384.79 L557.91,383.86 L558.57,382.92 L559.24,381.97 L559.91,381.00 L560.57,380.03 L561.24,379.05 L561.90,378.08 L562.57,377.13 L563.24,376.21 L563.90,375.32 L564.57,374.46 L565.23,373.64 L565.90,372.83 L566.56,372.05 L567.23,371.28 L567.90,370.52 L568.56,369.78 L569.23,369.04 L569.89,368.31 L570.56,367.58 L571.23,366.86 L571.89,366.13 L572.56,365.40 L573.22,364.67 L573.89,363.94 L574.55,363.21 L575.22,362.50 L575.89,361.78 L576.55,361.08 L577.22,360.39 L577.88,359.72 L578.55,359.05 L579.22,358.40 L579.88,357.76 L580.55,357.13 L581.21,356.50 L581.88,355.89 L582.54,355.28 L583.21,354.67 L583.88,354.07 L584.54,353.48 L585.21,352.88 L585.87,352.29 L586.54,351.71 L587.21,351.12 L587.87,350.53 L588.54,349.94 L589.20,349.35 L589.87,348.76 L590.53,348.18 L591.20,347.61 L591.87,347.04 L592.53,346.49 L593.20,345.95 L593.86,345.43 L594.53,344.93 L595.19,344.44 L595.86,343.97 L596.53,343.50 L597.19,343.05 L597.86,342.60 L598.52,342.17 L599.19,341.73 L599.86,341.31 L600.52,340.88 L601.19,340.45 L601.85,340.03 L602.52,339.60 L603.18,339.17 L603.85,338.73 L604.52,338.29 L605.18,337.84 L605.85,337.38 L606.51,336.93 L607.18,336.47 L607.85,336.02 L608.51,335.56 L609.18,335.11 L609.84,334.67 L610.51,334.24 L611.17,333.81 L611.84,333.40 L612.51,332.99 L613.17,332.59 L613.84,332.19 L614.50,331.80 L615.17,331.41 L615.84,331.02 L616.50,330.64 L617.17,330.27 L617.83,329.90 L618.50,329.53 L619.16,329.18 L619.83,328.83 L620.50,328.48 L621.16,328.15 L621.83,327.82 L622.49,327.50 L623.16,327.19 L623.83,326.89 L624.49,326.60 L625.16,326.31 L625.82,326.03 L626.49,325.76 L627.15,325.49 L627.82,325.22 L628.49,324.96 L629.15,324.70 L629.82,324.44 L630.48,324.18 L631.15,323.92 L631.82,323.66 L632.48,323.41 L633.15,323.16 L633.81,322.91 L634.48,322.66 L635.14,322.42 L635.81,322.18 L636.48,321.94 L637.14,321.70 L637.81,321.46 L638.47,321.22 L639.14,320.98 L639.81,320.73 L640.47,320.49 L641.14,320.25 L641.80,320.00 L642.47,319.75 L643.13,319.49 L643.80,319.24 L644.47,318.98 L645.13,318.72 L645.80,318.45 L646.46,318.19 L647.13,317.93 L647.79,317.66 L648.46,317.40 L649.13,317.14 L649.79,316.88 L650.46,316.63 L651.12,316.37 L651.79,316.13 L652.46,315.88 L653.12,315.64 L653.79,315.41 L654.45,315.18 L655.12,314.96 L655.78,314.74 L656.45,314.53 L657.12,314.32 L657.78,314.11 L658.45,313.90 L659.11,313.69 L659.78,313.49 L660.45,313.29 L661.11,313.09 L661.78,312.89 L662.44,312.70 L663.11,312.50 L663.77,312.31 L664.44,312.12 L665.11,311.94 L665.77,311.75 L666.44,311.57 L667.10,311.39 L667.77,311.21 L668.44,311.03 L669.10,310.86 L669.77,310.69 L670.43,310.52 L671.10,310.35 L671.76,310.18 L672.43,310.02 L673.10,309.85 L673.76,309.69 L674.43,309.53 L675.09,309.38 L675.76,309.22 L676.43,309.07 L677.09,308.91 L677.76,308.76 L678.42,308.61 L679.09,308.47 L679.75,308.32 L680.42,308.17 L681.09,308.03 L681.75,307.89 L682.42,307.75 L683.08,307.61 L683.75,307.47 L684.42,307.33 L685.08,307.20 L685.75,307.07 L686.41,306.94 L687.08,306.81 L687.74,306.68 L688.41,306.55 L689.08,306.42 L689.74,306.30 L690.41,306.17 L691.07,306.05 L691.74,305.93 L692.41,305.81 L693.07,305.69 L693.74,305.57 L694.40,305.45 L695.07,305.34 L695.73,305.22 L696.40,305.11 L697.07,304.99 L697.73,304.88 L698.40,304.77 L699.06,304.66 L699.73,304.55 L700.39,304.44 L701.06,304.33 L701.73,304.22 L702.39,304.12 L703.06,304.01 L703.72,303.91 L704.39,303.81 L705.06,303.71 L705.72,303.61 L706.39,303.51 L707.05,303.41 L707.72,303.32 L708.38,303.22 L709.05,303.13 L709.72,303.04 L710.38,302.95 L711.05,302.86 L711.71,302.77 L712.38,302.68 L713.05,302.59 L713.71,302.50 L714.38,302.42 L715.04,302.33 L715.71,302.25 L716.37,302.16 L717.04,302.08 L717.71,302.00 L718.37,301.91 L719.04,301.83 L719.70,301.75 L720.37,301.67 L721.04,301.59 L721.70,301.51 L722.37,301.43 L723.03,301.36 L723.70,301.28 L724.36,301.20 L725.03,301.13 L725.70,301.05 L726.36,300.98 L727.03,300.91 L727.69,300.84 L728.36,300.76 L729.03,300.69 L729.69,300.62 L730.36,300.56 L731.02,300.49 L731.69,300.42 L732.35,300.35 L733.02,300.29 L733.69,300.22 L734.35,300.16 L735.02,300.10 L735.68,300.04 L736.35,299.98 L737.02,299.92 L737.68,299.86 L738.35,299.80 L739.01,299.74 L739.68,299.69 L740.34,299.63 L741.01,299.58 L741.68,299.52 L742.34,299.47 L743.01,299.42 L743.67,299.37 L744.34,299.31 L745.01,299.26 L745.67,299.21 L746.34,299.16 L747.00,299.11 L747.67,299.06 L748.33,299.02 L749.00,298.97 L749.67,298.92 L750.33,298.87 L751.00,298.82 L751.66,298.78 L752.33,298.73 L752.99,298.68 L753.66,298.63 L754.33,298.59 L754.99,298.54 L755.66,298.49 L756.32,298.44 L756.99,298.39 L757.66,298.35 L758.32,298.30 L758.99,298.25 L759.65,298.20 L760.32,298.15 L760.98,298.10 L761.65,298.05 L762.32,298.00 L762.98,297.94 L763.65,297.89 L764.31,297.84 L764.98,297.78 L765.65,297.73 L766.31,297.68 L766.98,297.62 L767.64,297.56 L768.31,297.50 L768.97,297.44 L769.64,297.38 L770.31,297.32 L770.97,297.26 L771.64,297.20 L772.30,297.13 L772.97,297.07 L773.64,297.01 L774.30,296.94 L774.97,296.88 L775.63,296.81 L776.30,296.74 L776.96,296.68 L777.63,296.61 L778.30,296.55 L778.96,296.48 L779.63,296.42 L780.29,296.36 L780.96,296.29 L781.63,296.23 L782.29,296.17 L782.96,296.11 L783.62,296.05 L784.29,295.99 L784.95,295.93 L785.62,295.87 L786.29,295.82 L786.95,295.76 L787.62,295.71 L788.28,295.66 L788.95,295.60 L789.62,295.55 L790.28,295.50 L790.95,295.45 L791.61,295.40 L792.28,295.35 L792.94,295.30 L793.61,295.25 L794.28,295.20 L794.94,295.15 L795.61,295.10 L796.27,295.06 L796.94,295.01 L797.61,294.97 L798.27,294.92 L798.94,294.87 L799.60,294.83 L800.27,294.79 L800.93,294.74 L801.60,294.70" stroke="#998c3d" stroke-width="1.6" stroke-dasharray="12.5 8.5" fill="none"/>
<path d="M486.20,468.30 L486.87,465.36 L487.53,462.27 L488.20,459.03 L488.86,455.69 L489.53,452.17 L490.19,448.36 L490.86,444.14 L491.52,439.69 L492.19,435.25 L492.85,430.77 L493.52,426.26 L494.18,421.76 L494.85,417.41 L495.52,412.97 L496.18,408.12 L496.85,402.60 L497.51,396.75 L498.18,391.06 L498.84,385.91 L499.51,381.02 L500.17,376.37 L500.84,372.01 L501.50,367.92 L502.17,364.02 L502.84,360.32 L503.50,356.88 L504.17,353.75 L504.83,350.82 L505.50,348.07 L506.16,345.47 L506.83,343.01 L507.49,340.69 L508.16,338.48 L508.82,336.34 L509.49,334.24 L510.15,332.21 L510.82,330.26 L511.49,328.43 L512.15,326.72 L512.82,325.17 L513.48,323.79 L514.15,322.53 L514.81,321.33 L515.48,320.19 L516.14,319.10 L516.81,318.07 L517.47,317.09 L518.14,316.15 L518.80,315.26 L519.47,314.41 L520.14,313.59 L520.80,312.82 L521.47,312.08 L522.13,311.37 L522.80,310.69 L523.46,310.02 L524.13,309.37 L524.79,308.74 L525.46,308.12 L526.12,307.52 L526.79,306.93 L527.45,306.36 L528.12,305.81 L528.79,305.27 L529.45,304.75 L530.12,304.25 L530.78,303.76 L531.45,303.28 L532.11,302.83 L532.78,302.39 L533.44,301.97 L534.11,301.56 L534.77,301.17 L535.44,300.80 L536.11,300.44 L536.77,300.10 L537.44,299.76 L538.10,299.43 L538.77,299.11 L539.43,298.79 L540.10,298.49 L540.76,298.19 L541.43,297.89 L542.09,297.61 L542.76,297.33 L543.42,297.07 L544.09,296.81 L544.76,296.55 L545.42,296.31 L546.09,296.08 L546.75,295.85 L547.42,295.63 L548.08,295.42 L548.75,295.22 L549.41,295.02 L550.08,294.84 L550.74,294.67 L551.41,294.50 L552.07,294.33 L552.74,294.18 L553.41,294.02 L554.07,293.87 L554.74,293.72 L555.40,293.58 L556.07,293.44 L556.73,293.30 L557.40,293.17 L558.06,293.04 L558.73,292.91 L559.39,292.79 L560.06,292.67 L560.72,292.55 L561.39,292.44 L562.06,292.33 L562.72,292.22 L563.39,292.12 L564.05,292.01 L564.72,291.92 L565.38,291.82 L566.05,291.72 L566.71,291.63 L567.38,291.54 L568.04,291.46 L568.71,291.37 L569.38,291.29 L570.04,291.21 L570.71,291.13 L571.37,291.05 L572.04,290.98 L572.70,290.90 L573.37,290.83 L574.03,290.76 L574.70,290.69 L575.36,290.62 L576.03,290.55 L576.69,290.48 L577.36,290.42 L578.03,290.36 L578.69,290.29 L579.36,290.23 L580.02,290.17 L580.69,290.11 L581.35,290.06 L582.02,290.00 L582.68,289.94 L583.35,289.89 L584.01,289.84 L584.68,289.78 L585.34,289.73 L586.01,289.68 L586.68,289.63 L587.34,289.58 L588.01,289.54 L588.67,289.49 L589.34,289.44 L590.00,289.40 L590.67,289.35 L591.33,289.31 L592.00,289.26 L592.66,289.22 L593.33,289.18 L593.99,289.13 L594.66,289.09 L595.33,289.05 L595.99,289.01 L596.66,288.97 L597.32,288.93 L597.99,288.90 L598.65,288.86 L599.32,288.82 L599.98,288.78 L600.65,288.75 L601.31,288.71 L601.98,288.68 L602.65,288.64 L603.31,288.61 L603.98,288.57 L604.64,288.54 L605.31,288.51 L605.97,288.48 L606.64,288.44 L607.30,288.41 L607.97,288.38 L608.63,288.35 L609.30,288.32 L609.96,288.29 L610.63,288.27 L611.30,288.24 L611.96,288.21 L612.63,288.18 L613.29,288.15 L613.96,288.13 L614.62,288.10 L615.29,288.08 L615.95,288.05 L616.62,288.02 L617.28,288.00 L617.95,287.97 L618.61,287.95 L619.28,287.92 L619.95,287.90 L620.61,287.88 L621.28,287.85 L621.94,287.83 L622.61,287.81 L623.27,287.78 L623.94,287.76 L624.60,287.74 L625.27,287.72 L625.93,287.70 L626.60,287.67 L627.26,287.65 L627.93,287.63 L628.60,287.61 L629.26,287.59 L629.93,287.57 L630.59,287.55 L631.26,287.53 L631.92,287.51 L632.59,287.49 L633.25,287.48 L633.92,287.46 L634.58,287.44 L635.25,287.42 L635.92,287.40 L636.58,287.38 L637.25,287.37 L637.91,287.35 L638.58,287.33 L639.24,287.32 L639.91,287.30 L640.57,287.28 L641.24,287.26 L641.90,287.25 L642.57,287.23 L643.23,287.22 L643.90,287.20 L644.57,287.18 L645.23,287.17 L645.90,287.15 L646.56,287.14 L647.23,287.12 L647.89,287.11 L648.56,287.09 L649.22,287.08 L649.89,287.06 L650.55,287.05 L651.22,287.03 L651.88,287.02 L652.55,287.00 L653.22,286.99 L653.88,286.98 L654.55,286.96 L655.21,286.95 L655.88,286.94 L656.54,286.92 L657.21,286.91 L657.87,286.90 L658.54,286.88 L659.20,286.87 L659.87,286.86 L660.54,286.85 L661.20,286.83 L661.87,286.82 L662.53,286.81 L663.20,286.80 L663.86,286.79 L664.53,286.77 L665.19,286.76 L665.86,286.75 L666.52,286.74 L667.19,286.73 L667.85,286.72 L668.52,286.71 L669.19,286.70 L669.85,286.69 L670.52,286.68 L671.18,286.67 L671.85,286.65 L672.51,286.64 L673.18,286.63 L673.84,286.62 L674.51,286.61 L675.17,286.60 L675.84,286.59 L676.50,286.59 L677.17,286.58 L677.84,286.57 L678.50,286.56 L679.17,286.55 L679.83,286.54 L680.50,286.53 L681.16,286.53 L681.83,286.52 L682.49,286.51 L683.16,286.51 L683.82,286.50 L684.49,286.50 L685.15,286.49 L685.82,286.48 L686.49,286.48 L687.15,286.47 L687.82,286.47 L688.48,286.46 L689.15,286.46 L689.81,286.45 L690.48,286.45 L691.14,286.44 L691.81,286.44 L692.47,286.43 L693.14,286.42 L693.81,286.42 L694.47,286.41 L695.14,286.41 L695.80,286.40 L696.47,286.40 L697.13,286.39 L697.80,286.39 L698.46,286.38 L699.13,286.38 L699.79,286.37 L700.46,286.37 L701.12,286.36 L701.79,286.36 L702.46,286.35 L703.12,286.34 L703.79,286.34 L704.45,286.33 L705.12,286.33 L705.78,286.32 L706.45,286.32 L707.11,286.31 L707.78,286.31 L708.44,286.30 L709.11,286.30 L709.77,286.29 L710.44,286.29 L711.11,286.28 L711.77,286.28 L712.44,286.27 L713.10,286.27 L713.77,286.26 L714.43,286.26 L715.10,286.25 L715.76,286.25 L716.43,286.25 L717.09,286.24 L717.76,286.24 L718.42,286.23 L719.09,286.23 L719.76,286.22 L720.42,286.22 L721.09,286.21 L721.75,286.21 L722.42,286.20 L723.08,286.20 L723.75,286.19 L724.41,286.19 L725.08,286.19 L725.74,286.18 L726.41,286.18 L727.08,286.17 L727.74,286.17 L728.41,286.16 L729.07,286.16 L729.74,286.15 L730.40,286.15 L731.07,286.15 L731.73,286.14 L732.40,286.14 L733.06,286.13 L733.73,286.13 L734.39,286.13 L735.06,286.12 L735.73,286.12 L736.39,286.11 L737.06,286.11 L737.72,286.11 L738.39,286.10 L739.05,286.10 L739.72,286.09 L740.38,286.09 L741.05,286.09 L741.71,286.08 L742.38,286.08 L743.04,286.07 L743.71,286.07 L744.38,286.07 L745.04,286.06 L745.71,286.06 L746.37,286.06 L747.04,286.05 L747.70,286.05 L748.37,286.05 L749.03,286.04 L749.70,286.04 L750.36,286.04 L751.03,286.03 L751.69,286.03 L752.36,286.03 L753.03,286.02 L753.69,286.02 L754.36,286.02 L755.02,286.01 L755.69,286.01 L756.35,286.01 L757.02,286.00 L757.68,286.00 L758.35,286.00 L759.01,286.00 L759.68,285.99 L760.35,285.99 L761.01,285.99 L761.68,285.99 L762.34,285.98 L763.01,285.98 L763.67,285.98 L764.34,285.97 L765.00,285.97 L765.67,285.97 L766.33,285.97 L767.00,285.96 L767.66,285.96 L768.33,285.96 L769.00,285.96 L769.66,285.96 L770.33,285.95 L770.99,285.95 L771.66,285.95 L772.32,285.95 L772.99,285.94 L773.65,285.94 L774.32,285.94 L774.98,285.94 L775.65,285.94 L776.31,285.94 L776.98,285.93 L777.65,285.93 L778.31,285.93 L778.98,285.93 L779.64,285.93 L780.31,285.93 L780.97,285.92 L781.64,285.92 L782.30,285.92 L782.97,285.92 L783.63,285.92 L784.30,285.92 L784.96,285.92 L785.63,285.91 L786.30,285.91 L786.96,285.91 L787.63,285.91 L788.29,285.91 L788.96,285.91 L789.62,285.91 L790.29,285.91 L790.95,285.91 L791.62,285.91 L792.28,285.90 L792.95,285.90 L793.62,285.90 L794.28,285.90 L794.95,285.90 L795.61,285.90 L796.28,285.90 L796.94,285.90 L797.61,285.90 L798.27,285.90 L798.94,285.90 L799.60,285.90 L800.27,285.90 L800.93,285.90 L801.60,285.90" stroke="#993d70" stroke-width="1.7" stroke-dasharray="17 15.5" fill="none"/>
<path d="M486.65,383.35 L487.04,373.79 L487.44,365.18 L487.83,357.50 L488.22,350.68 L488.61,344.62 L489.00,339.26 L489.40,334.52 L489.79,330.30 L490.18,326.56 L490.57,323.23 L490.96,320.26 L491.36,317.60 L491.75,315.22 L492.14,313.08 L492.53,311.15 L492.92,309.41 L493.31,307.83 L493.71,306.39 L494.10,305.09 L494.49,303.89 L494.88,302.80 L495.27,301.81 L495.67,300.89 L496.06,300.04 L496.45,299.27 L496.84,298.55 L497.23,297.88 L497.63,297.27 L498.02,296.69 L498.41,296.16 L498.80,295.66 L499.19,295.20 L499.59,294.77 L499.98,294.36 L500.37,293.98 L500.76,293.63 L501.15,293.29 L501.55,292.98 L501.94,292.68 L502.33,292.40 L502.72,292.14 L503.11,291.89 L503.50,291.66 L503.90,291.44 L504.29,291.22 L504.68,291.02 L505.07,290.84 L505.46,290.66 L505.86,290.48 L506.25,290.32 L506.64,290.17 L507.03,290.02 L507.42,289.88 L507.82,289.74 L508.21,289.61 L508.60,289.49 L508.99,289.37 L509.38,289.26 L509.78,289.15 L510.17,289.05 L510.56,288.95 L510.95,288.86 L511.34,288.77 L511.74,288.68 L512.13,288.60 L512.52,288.51 L512.91,288.44 L513.30,288.36 L513.70,288.29 L514.09,288.22 L514.48,288.16 L514.87,288.09 L515.26,288.03 L515.65,287.97 L516.05,287.91 L516.44,287.86 L516.83,287.80 L517.22,287.75 L517.61,287.70 L518.01,287.65 L518.40,287.60 L518.79,287.56 L519.18,287.52 L519.57,287.47 L519.97,287.43 L520.36,287.39 L520.75,287.35 L521.14,287.32 L521.53,287.28 L521.93,287.24 L522.32,287.21 L522.71,287.18 L523.10,287.14 L523.49,287.11 L523.89,287.08 L524.28,287.05 L524.67,287.02 L525.06,286.99 L525.45,286.97 L525.85,286.94 L526.24,286.91 L526.63,286.89 L527.02,286.87 L527.41,286.84 L527.80,286.82 L528.20,286.80 L528.59,286.77 L528.98,286.75 L529.37,286.73 L529.76,286.71 L530.16,286.69 L530.55,286.67 L530.94,286.65 L531.33,286.63 L531.72,286.62 L532.12,286.60 L532.51,286.58 L532.90,286.56 L533.29,286.55 L533.68,286.53 L534.08,286.52 L534.47,286.50 L534.86,286.49 L535.25,286.47 L535.64,286.46 L536.04,286.44 L536.43,286.43 L536.82,286.41 L537.21,286.40 L537.60,286.39 L538.00,286.38 L538.39,286.36 L538.78,286.35 L539.17,286.34 L539.56,286.33 L539.95,286.32 L540.35,286.31 L540.74,286.30 L541.13,286.28 L541.52,286.27 L541.91,286.26 L542.31,286.25 L542.70,286.24 L543.09,286.23 L543.48,286.22 L543.87,286.22 L544.27,286.21 L544.66,286.20 L545.05,286.19 L550.28,286.09 L555.52,286.00 L560.75,285.94 L565.99,285.89 L571.22,285.84 L576.45,285.80 L581.69,285.77 L586.92,285.75 L592.16,285.72 L597.39,285.70 L602.63,285.69 L607.86,285.67 L613.09,285.66 L618.33,285.64 L623.56,285.63 L628.80,285.62 L634.03,285.62 L639.26,285.61 L644.50,285.60 L649.73,285.60 L654.97,285.59 L660.20,285.58 L665.44,285.58 L670.67,285.58 L675.90,285.57 L681.14,285.57 L686.37,285.56 L691.61,285.56 L696.84,285.56 L702.07,285.56 L707.31,285.55 L712.54,285.55 L717.78,285.55 L723.01,285.55 L728.25,285.54 L733.48,285.54 L738.71,285.54 L743.95,285.54 L749.18,285.54 L754.42,285.54 L759.65,285.53 L764.88,285.53 L770.12,285.53 L775.35,285.53 L780.59,285.53 L785.82,285.53 L791.05,285.53 L796.29,285.53 L801.52,285.53" stroke="#3d3d99" stroke-width="1.6" fill="none"/>
<path d="M514.6,522.3 H545.6" stroke="#3d3d99" stroke-width="1.3" fill="none"/>
<path d="M585.7,522.3 H595.3 M606.7,522.3 H616.3" stroke="#993d70" stroke-width="1.3" fill="none"/>
<path d="M663.6,522.3 H668 M676.3,522.3 H687.1 M693.9,522.3 H704" stroke="#998c3d" stroke-width="1.3" fill="none"/>
<path d="M754.5,522.3 H759.6 M763.3,522.3 H768.4 M772.7,522.3 H777.7" stroke="#33bb55" stroke-width="1.2" fill="none"/>
</g>
<g id="labels" opacity="0.999">
<text transform="matrix(0.1937 0 0 0.1579 37.44 23.78)" stroke="#000" stroke-width="1">a</text>
<text transform="matrix(0.1200 0 0 0.1046 227.44 42.80)" stroke="#000" stroke-width="1">1</text>
<text transform="matrix(0.1407 0 0 0.1557 179.67 102.89)" font-style="italic">b</text>
<text transform="matrix(0.1532 0 0 0.1593 219.28 109.88)" font-style="italic">d</text>
<text transform="matrix(0.1095 0 0 0.1037 67.82 148.59)" stroke="#000" stroke-width="1">0</text>
<text transform="matrix(0.1286 0 0 0.1030 138.07 191.89)" stroke="#000" stroke-width="1">0</text>
<text transform="matrix(0.1371 0 0 0.1131 570.34 43.60)" font-style="italic">N</text>
<text transform="matrix(0.1129 0 0 0.1092 611.97 43.60)" stroke="#000" stroke-width="1">1</text>
<text transform="matrix(0.1336 0 0 0.1092 721.93 148.60)" font-style="italic">N</text>
<text transform="matrix(0.1350 0 0 0.1115 676.73 192.80)" font-style="italic">N</text>
<text transform="matrix(0.1826 0 0 0.1629 38.00 264.47)" stroke="#000" stroke-width="1">b</text>
<text transform="matrix(0.1592 0 0 0.1505 132.89 296.90)" font-style="italic">ω</text>
<text transform="matrix(0.1584 0 0 0.1505 197.79 296.90)" font-style="italic">ω</text>
<text transform="matrix(0.1240 0 0 0.1015 221.32 300.40)" font-style="italic">I</text>
<text transform="matrix(0.1684 0 0 0.1625 22.15 316.41)" stroke="#000" stroke-width="1">0.5</text>
<text transform="matrix(0.1660 0 0 0.1596 22.42 369.42)" stroke="#000" stroke-width="1">0.5</text>
<text transform="matrix(0.1504 0 0 0.1432 134.85 400.01)" font-style="italic">ω</text>
<text transform="matrix(0.1667 0 0 0.1581 199.97 400.03)" stroke="#000" stroke-width="1">0.9</text>
<text transform="matrix(0.1504 0 0 0.1432 247.35 400.01)" font-style="italic">ω</text>
<text transform="matrix(0.1360 0 0 0.0977 269.64 404.20)" font-style="italic">I</text>
<text transform="matrix(0.1679 0 0 0.1618 22.16 420.11)" stroke="#000" stroke-width="1">0.5</text>
<text transform="matrix(0.1660 0 0 0.1625 22.42 467.81)" stroke="#000" stroke-width="1">0.5</text>
<text transform="matrix(0.1693 0 0 0.1521 394.45 264.30)" stroke="#000" stroke-width="1">c</text>
<text transform="matrix(0.1655 0 0 0.1559 465.54 258.55)" font-style="italic">η</text>
<text transform="matrix(0.1253 0 0 0.1077 484.43 265.10)" font-style="italic">I</text>
<text transform="matrix(0.1667 0 0 0.1581 433.77 291.73)" stroke="#000" stroke-width="1">0.5</text>
<text transform="matrix(0.1655 0 0 0.1570 459.58 473.09)" stroke="#000" stroke-width="1">0</text>
<text transform="matrix(0.1700 0 0 0.1617 577.56 494.38)" stroke="#000" stroke-width="1">5</text>
<text transform="matrix(0.1655 0 0 0.1578 673.02 494.48)" stroke="#000" stroke-width="1">10</text>
<text transform="matrix(0.1678 0 0 0.1602 776.18 494.48)" stroke="#000" stroke-width="1">15</text>
<text transform="matrix(0.1832 0 0 0.1662 437.98 526.40)" font-style="italic">N</text>
<text transform="matrix(0.1650 0 0 0.1606 546.62 526.00)" stroke="#000" stroke-width="1">2</text>
<text transform="matrix(0.1592 0 0 0.1585 617.33 526.08)" stroke="#000" stroke-width="1">10</text>
<text transform="matrix(0.1656 0 0 0.1585 705.21 525.88)" stroke="#000" stroke-width="1">50</text>
<text transform="matrix(0.1781 0 0 0.1585 783.79 525.88)" stroke="#000" stroke-width="1">100</text>
<rect x="165.8" y="284.25" width="22.10" height="1.3" fill="#000"/>
<rect x="165.8" y="291.75" width="22.10" height="1.3" fill="#000"/>
<rect x="167.4" y="389.15" width="22.10" height="1.3" fill="#000"/>
<rect x="167.4" y="396.45" width="22.10" height="1.3" fill="#000"/>
<rect x="475.2" y="514.33" width="22.80" height="1.35" fill="#000"/>
<rect x="475.2" y="521.23" width="22.80" height="1.35" fill="#000"/>
<rect x="0" y="360.35" width="19.75" height="1.3" fill="#000"/>
<rect x="0" y="458.85" width="19.70" height="1.3" fill="#000"/>
<rect x="593.8" y="37.55" width="15.10" height="1.1" fill="#000"/>
<path d="M55.90,-1.20 Q71.70,15.15 55.90,31.50 Q68.30,15.15 55.90,-1.20 Z" fill="#000" stroke="#000" stroke-width="0.75" stroke-linejoin="round"/>
<path d="M91.90,120.80 Q76.30,136.75 91.90,152.70 Q79.70,136.75 91.90,120.80 Z" fill="#000" stroke="#000" stroke-width="0.75" stroke-linejoin="round"/>
<path d="M107.70,120.80 Q123.10,136.75 107.70,152.70 Q119.70,136.75 107.70,120.80 Z" fill="#000" stroke="#000" stroke-width="0.75" stroke-linejoin="round"/>
<path d="M755.50,121.40 Q740.10,137.40 755.50,153.40 Q743.50,137.40 755.50,121.40 Z" fill="#000" stroke="#000" stroke-width="0.75" stroke-linejoin="round"/>
<path d="M771.10,121.40 Q786.50,137.40 771.10,153.40 Q783.10,137.40 771.10,121.40 Z" fill="#000" stroke="#000" stroke-width="0.75" stroke-linejoin="round"/>
<path d="M57.20,240.30 Q72.60,256.15 57.20,272.00 Q69.20,256.15 57.20,240.30 Z" fill="#000" stroke="#000" stroke-width="0.75" stroke-linejoin="round"/>
<path d="M411.10,240.10 Q426.70,256.05 411.10,272.00 Q423.30,256.05 411.10,240.10 Z" fill="#000" stroke="#000" stroke-width="0.75" stroke-linejoin="round"/>
<g fill="none" stroke="#000" stroke-width="1.5" stroke-linecap="round"><path d="M210.76,28.14 C211.68,25.90 213.04,24.02 214.86,24.02 C217.14,24.02 218.29,26.36 218.06,30.11 C217.84,33.39 216.69,36.44 213.96,36.44 C212.58,36.44 211.45,35.97 211.22,35.27"/><path d="M223.53,26.13 C222.62,24.02 220.80,23.55 219.42,24.48 C217.61,25.90 216.92,28.71 216.92,30.58 C216.92,33.86 218.06,36.92 220.34,36.92 C222.17,36.92 223.53,35.27 224.45,32.92"/><circle cx="211.36" cy="35.03" r="1.25" fill="#000" stroke="none"/><circle cx="223.52" cy="26.32" r="1.25" fill="#000" stroke="none"/></g>
<g fill="none" stroke="#000" stroke-width="1.5" stroke-linecap="round"><path d="M121.75,177.74 C122.66,175.59 124.02,173.80 125.83,173.80 C128.09,173.80 129.24,176.03 129.01,179.62 C128.78,182.75 127.64,185.67 124.93,185.67 C123.56,185.67 122.44,185.22 122.21,184.55"/><path d="M134.44,175.81 C133.54,173.80 131.72,173.35 130.36,174.24 C128.56,175.59 127.87,178.28 127.87,180.07 C127.87,183.21 129.01,186.12 131.28,186.12 C133.09,186.12 134.44,184.55 135.35,182.30"/><circle cx="122.35" cy="184.32" r="1.25" fill="#000" stroke="none"/><circle cx="134.43" cy="175.99" r="1.25" fill="#000" stroke="none"/></g>
<g fill="none" stroke="#000" stroke-width="1.5" stroke-linecap="round"><path d="M552.64,27.77 C553.54,25.52 554.87,23.63 556.66,23.63 C558.90,23.63 560.02,25.98 559.80,29.76 C559.58,33.06 558.45,36.14 555.78,36.14 C554.43,36.14 553.32,35.66 553.10,34.95"/><path d="M565.16,25.75 C564.27,23.63 562.48,23.15 561.13,24.09 C559.36,25.52 558.68,28.35 558.68,30.24 C558.68,33.54 559.80,36.61 562.04,36.61 C563.83,36.61 565.16,34.95 566.06,32.59"/><circle cx="553.23" cy="34.71" r="1.25" fill="#000" stroke="none"/><circle cx="565.14" cy="25.94" r="1.25" fill="#000" stroke="none"/></g>
<g fill="none" stroke="#000" stroke-width="1.5" stroke-linecap="round"><path d="M658.66,177.74 C659.59,175.59 660.96,173.80 662.80,173.80 C665.09,173.80 666.25,176.03 666.02,179.62 C665.79,182.75 664.64,185.67 661.88,185.67 C660.50,185.67 659.36,185.22 659.13,184.55"/><path d="M671.52,175.81 C670.61,173.80 668.77,173.35 667.39,174.24 C665.56,175.59 664.86,178.28 664.86,180.07 C664.86,183.21 666.02,186.12 668.31,186.12 C670.15,186.12 671.52,184.55 672.45,182.30"/><circle cx="659.27" cy="184.32" r="1.25" fill="#000" stroke="none"/><circle cx="671.51" cy="175.99" r="1.25" fill="#000" stroke="none"/></g>
<g fill="none" stroke="#000" stroke-width="1.5" stroke-linecap="round"><path d="M135.21,516.84 C136.13,514.69 137.50,512.90 139.33,512.90 C141.62,512.90 142.77,515.13 142.54,518.72 C142.31,521.85 141.16,524.77 138.42,524.77 C137.04,524.77 135.91,524.32 135.68,523.65"/><path d="M148.03,514.91 C147.12,512.90 145.28,512.45 143.91,513.34 C142.09,514.69 141.39,517.38 141.39,519.17 C141.39,522.31 142.54,525.22 144.83,525.22 C146.66,525.22 148.03,523.65 148.95,521.40"/><circle cx="135.81" cy="523.41" r="1.25" fill="#000" stroke="none"/><circle cx="148.01" cy="515.09" r="1.25" fill="#000" stroke="none"/></g>
<g fill="none" stroke="#000" stroke-width="1.5" stroke-linecap="round"><path d="M265.22,516.84 C266.16,514.69 267.54,512.90 269.40,512.90 C271.71,512.90 272.88,515.13 272.65,518.72 C272.42,521.85 271.25,524.77 268.48,524.77 C267.08,524.77 265.93,524.32 265.70,523.65"/><path d="M278.21,514.91 C277.29,512.90 275.43,512.45 274.03,513.34 C272.19,514.69 271.48,517.38 271.48,519.17 C271.48,522.31 272.65,525.22 274.97,525.22 C276.83,525.22 278.21,523.65 279.14,521.40"/><circle cx="265.84" cy="523.41" r="1.25" fill="#000" stroke="none"/><circle cx="278.19" cy="515.09" r="1.25" fill="#000" stroke="none"/></g>
<path d="M228.77,17.93 Q229.93,15.17 231.66,15.48 L230.74,20.38 C230.28,23.13 234.78,23.28 236.51,19.15 L237.67,15.33 M237.67,15.33 L236.74,20.99 C236.63,22.98 239.17,23.13 240.32,20.38" fill="none" stroke="#000" stroke-width="1.35" stroke-linecap="round" stroke-linejoin="round"/>
<path d="M570.48,17.83 Q571.62,15.07 573.34,15.38 L572.42,20.28 C571.96,23.03 576.43,23.18 578.15,19.05 L579.29,15.23 M579.29,15.23 L578.38,20.89 C578.26,22.88 580.78,23.03 581.93,20.28" fill="none" stroke="#000" stroke-width="1.35" stroke-linecap="round" stroke-linejoin="round"/>
<path d="M153.07,507.10 Q154.24,503.88 155.99,504.23 L155.06,509.96 C154.59,513.18 159.13,513.36 160.88,508.53 L162.05,504.05 M162.05,504.05 L161.11,510.68 C161.00,513.00 163.56,513.18 164.72,509.96" fill="none" stroke="#000" stroke-width="1.35" stroke-linecap="round" stroke-linejoin="round"/>
<g fill="none" stroke="#000" stroke-linecap="round" stroke-linejoin="round"><path d="M274.03,53.19 L270.91,65.15" stroke-width="2.0"/><path d="M273.34,58.26 L278.82,55.27 L282.46,54.10" stroke-width="1.1"/><path d="M273.34,58.26 C276.84,58.00 279.12,59.30 279.12,61.64 C279.12,65.41 282.16,66.06 283.38,63.98 L284.74,61.38" stroke-width="1.6"/><circle cx="282.77" cy="54.36" r="1.3" fill="#000" stroke="none"/></g>
<g fill="none" stroke="#000" stroke-linecap="round" stroke-linejoin="round"><path d="M183.15,141.98 L180.02,153.76" stroke-width="2.0"/><path d="M182.47,146.98 L187.97,144.03 L191.65,142.88" stroke-width="1.1"/><path d="M182.47,146.98 C185.98,146.72 188.28,148.00 188.28,150.30 C188.28,154.02 191.34,154.66 192.56,152.61 L193.94,150.05" stroke-width="1.6"/><circle cx="191.95" cy="143.14" r="1.3" fill="#000" stroke="none"/></g>
<g fill="none" stroke="#000" stroke-linecap="round" stroke-linejoin="round"><path d="M816.50,459.89 L813.72,471.85" stroke-width="2.0"/><path d="M815.89,464.96 L820.79,461.97 L824.05,460.80" stroke-width="1.1"/><path d="M815.89,464.96 C819.02,464.70 821.06,466.00 821.06,468.34 C821.06,472.11 823.78,472.76 824.87,470.68 L826.09,468.08" stroke-width="1.6"/><circle cx="824.32" cy="461.06" r="1.3" fill="#000" stroke="none"/></g>
<path d="M140.59,159.99 L143.01,159.47 L140.83,170.01 C140.49,172.58 142.49,173.10 143.52,169.75" fill="none" stroke="#000" stroke-width="1.35" stroke-linecap="round" stroke-linejoin="round"/>
<path d="M677.71,159.99 L680.19,159.47 L677.96,170.01 C677.60,172.58 679.66,173.10 680.73,169.75" fill="none" stroke="#000" stroke-width="1.35" stroke-linecap="round" stroke-linejoin="round"/>
<path d="M282.97,498.89 L286.23,498.38 L283.30,508.99 C282.83,511.58 285.53,512.10 286.93,508.73" fill="none" stroke="#000" stroke-width="1.35" stroke-linecap="round" stroke-linejoin="round"/>
<g><path d="M385.3,329.9 C386.5,327.4 388.4,325.7 390.2,325.7 C392.2,325.7 392.6,327.3 392.1,329.5 L389.2,341.6 C388.3,345.2 385.6,347.0 383.5,345.4" fill="none" stroke="#000" stroke-width="1.7" stroke-linecap="round"/><circle cx="393.2" cy="320.3" r="1.55" fill="#000"/><circle cx="383.1" cy="344.3" r="1.35" fill="#000"/></g>
<g transform="translate(-2.3,103.45)"><path d="M385.3,329.9 C386.5,327.4 388.4,325.7 390.2,325.7 C392.2,325.7 392.6,327.3 392.1,329.5 L389.2,341.6 C388.3,345.2 385.6,347.0 383.5,345.4" fill="none" stroke="#000" stroke-width="1.7" stroke-linecap="round"/><circle cx="393.2" cy="320.3" r="1.55" fill="#000"/><circle cx="383.1" cy="344.3" r="1.35" fill="#000"/></g>
<g transform="translate(151.25,518) scale(0.72,0.71) translate(-381.1,-318.8)"><path d="M385.3,329.9 C386.5,327.4 388.4,325.7 390.2,325.7 C392.2,325.7 392.6,327.3 392.1,329.5 L389.2,341.6 C388.3,345.2 385.6,347.0 383.5,345.4" fill="none" stroke="#000" stroke-width="2.1" stroke-linecap="round"/><circle cx="393.2" cy="320.3" r="1.55" fill="#000"/><circle cx="383.1" cy="344.3" r="1.35" fill="#000"/></g>
<g transform="translate(281.25,518.1) scale(0.70,0.71) translate(-381.1,-318.8)"><path d="M385.3,329.9 C386.5,327.4 388.4,325.7 390.2,325.7 C392.2,325.7 392.6,327.3 392.1,329.5 L389.2,341.6 C388.3,345.2 385.6,347.0 383.5,345.4" fill="none" stroke="#000" stroke-width="2.1" stroke-linecap="round"/><circle cx="393.2" cy="320.3" r="1.55" fill="#000"/><circle cx="383.1" cy="344.3" r="1.35" fill="#000"/></g>
<g transform="translate(0,0)" fill="none" stroke="#000" stroke-linecap="round"><path d="M101.5,125.9 L97.8,141.2 C97.0,144.5 99.6,145.4 101.5,144.0 C102.8,143.0 103.8,141.7 104.4,140.7" stroke-width="1.7"/><path d="M95.6,131.7 H104.5" stroke-width="1.2"/></g>
<g transform="translate(662.9,0.4)" fill="none" stroke="#000" stroke-linecap="round"><path d="M101.5,125.9 L97.8,141.2 C97.0,144.5 99.6,145.4 101.5,144.0 C102.8,143.0 103.8,141.7 104.4,140.7" stroke-width="1.7"/><path d="M95.6,131.7 H104.5" stroke-width="1.2"/></g>
<g transform="translate(0,0)" fill="none" stroke="#000" stroke-linecap="round"><path d="M67.3,124.6 C67.2,121.9 63.9,121.6 63.2,125.2 L58.5,146.4 C57.6,150.6 55.2,151.6 53.6,149.6" stroke-width="1.9"/><path d="M57.6,131.7 H66.8" stroke-width="1.2"/><circle cx="67.2" cy="124.4" r="1.1" fill="#000" stroke="none"/><circle cx="53.7" cy="149.5" r="1.2" fill="#000" stroke="none"/></g>
<g transform="translate(653.6,0.5)" fill="none" stroke="#000" stroke-linecap="round"><path d="M67.3,124.6 C67.2,121.9 63.9,121.6 63.2,125.2 L58.5,146.4 C57.6,150.6 55.2,151.6 53.6,149.6" stroke-width="1.9"/><path d="M57.6,131.7 H66.8" stroke-width="1.2"/><circle cx="67.2" cy="124.4" r="1.1" fill="#000" stroke="none"/><circle cx="53.7" cy="149.5" r="1.2" fill="#000" stroke="none"/></g>
<polygon points="488.1,234.2 490.3,235.1 484.5,244.4 483.5,243.9" fill="#000"/>
</g>
</svg>
</body></html>
